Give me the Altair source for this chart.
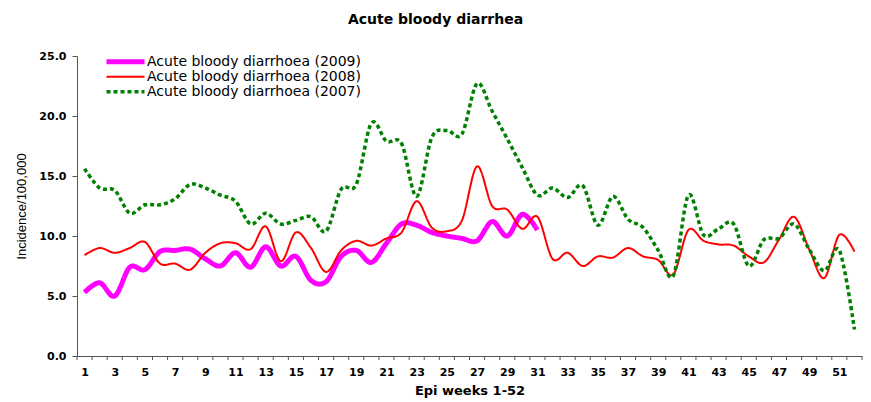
import altair as alt
import pandas as pd

# ---------------- data ----------------
weeks = list(range(1, 53))
weeks_2009 = list(range(1, 32))

inc_2009 = [5.3, 6.1, 5.0, 7.4, 7.2, 8.7, 8.8, 8.9, 8.1, 7.5,
            8.6, 7.4, 9.1, 7.5, 8.3, 6.3, 6.2, 8.3, 8.8, 7.8,
            9.4, 11.0, 10.9, 10.3, 10.0, 9.8, 9.6, 11.2, 10.0, 11.8,
            10.5]

inc_2008 = [8.4, 9.0, 8.6, 9.0, 9.5, 7.7, 7.7, 7.2, 8.6, 9.4,
            9.4, 8.9, 10.8, 7.9, 10.3, 9.0, 7.0, 8.8, 9.6, 9.2,
            9.8, 10.3, 12.9, 10.7, 10.4, 11.3, 15.8, 12.5, 12.2, 10.6,
            11.6, 8.1, 8.6, 7.5, 8.3, 8.2, 9.0, 8.3, 8.0, 6.8,
            10.5, 9.6, 9.3, 9.2, 8.3, 7.8, 9.7, 11.6, 8.9, 6.5,
            10.1, 8.7]

inc_2007 = [15.6, 14.0, 13.8, 11.9, 12.6, 12.6, 13.1, 14.3, 14.0, 13.4,
            12.9, 11.0, 11.9, 11.0, 11.3, 11.6, 10.4, 13.9, 14.3, 19.4,
            17.9, 17.7, 13.3, 18.2, 18.8, 18.5, 22.7, 20.4, 18.1, 15.7,
            13.4, 14.0, 13.2, 14.2, 10.9, 13.3, 11.4, 10.7, 8.8, 6.7,
            13.4, 10.1, 10.6, 11.0, 7.5, 9.7, 9.8, 11.0, 8.9, 7.1,
            8.8, 2.2]

series_names = ["Acute bloody diarrhoea (2009)",
                "Acute bloody diarrhoea (2008)",
                "Acute bloody diarrhoea (2007)"]
series_colors = ["#FF00FF", "#FF0000", "#008000"]
series_widths = [5, 2, 3.5]
series_dashes = [[1, 0], [1, 0], [4, 3]]

y_ticks = [0, 5, 10, 15, 20, 25]
x_labels = list(range(1, 52, 2))

rows = []
for name, wk, vals in [(series_names[0], weeks_2009, inc_2009),
                       (series_names[1], weeks, inc_2008),
                       (series_names[2], weeks, inc_2007)]:
    for w, v in zip(wk, vals):
        rows.append({"week": w, "value": v, "series": name})
df = pd.DataFrame(rows)

tick_df = pd.DataFrame({"week": [w - 0.5 for w in weeks] + [weeks[-1] + 0.5]})

# ---------------- chart ----------------
W, H = 785, 300
xscale = alt.Scale(domain=[0.5, 52.5], nice=False, zero=False)
leg = alt.Legend(title=None)

x_axis = alt.Axis(values=x_labels, format="d", title="Epi weeks 1-52",
                  ticks=False, grid=False, labelPadding=10,
                  labelFont="DejaVu Sans", labelFontWeight="bold",
                  labelFontSize=11, labelFlush=False,
                  titleFont="DejaVu Sans", titleFontWeight="bold",
                  titleFontSize=13, titlePadding=7)

lines = alt.Chart(df).mark_line(interpolate="cardinal").encode(
    x=alt.X("week:Q", scale=xscale, axis=x_axis),
    y=alt.Y("value:Q", scale=alt.Scale(domain=[0, 25], nice=False),
            axis=alt.Axis(values=y_ticks, format=".1f", title="Incidence/100,000",
                          grid=False, tickSize=5, labelPadding=6,
                          labelFont="DejaVu Sans", labelFontWeight="bold",
                          labelFontSize=11,
                          titleFont="Liberation Sans", titleFontWeight="normal",
                          titleFontSize=13, titlePadding=10)),
    color=alt.Color("series:N", scale=alt.Scale(domain=series_names, range=series_colors), legend=leg),
    strokeWidth=alt.StrokeWidth("series:N", scale=alt.Scale(type="ordinal", domain=series_names, range=series_widths), legend=leg),
    strokeDash=alt.StrokeDash("series:N", scale=alt.Scale(domain=series_names, range=series_dashes), legend=leg),
)

ticks = alt.Chart(tick_df).mark_rule(color="#555555", strokeWidth=1).encode(
    x=alt.X("week:Q", scale=xscale, axis=x_axis),
    y=alt.value(H),
    y2=alt.value(H + 4),
)

chart = alt.layer(lines, ticks).properties(
    width=W, height=H,
    title=alt.TitleParams("Acute bloody diarrhea", font="DejaVu Sans", fontSize=14,
                          fontWeight="bold", color="black", anchor="middle",
                          dx=-34, offset=23),
    autosize=alt.AutoSizeParams(type="none"),
    padding={"left": 69, "top": 48, "right": 1, "bottom": 44},
).configure_view(stroke=None).configure_axis(
    domainColor="#555555", tickColor="#555555", labelColor="black", titleColor="black",
).configure_legend(
    orient="none", legendX=27, legendY=-1, symbolType="stroke", symbolSize=1444,
    clipHeight=13.5, rowPadding=0, padding=0, labelOffset=0, labelLimit=400,
    labelFont="DejaVu Sans", labelFontSize=14, labelColor="black",
)

chart.save("out.html", embed_options={"renderer": "svg", "actions": False})
